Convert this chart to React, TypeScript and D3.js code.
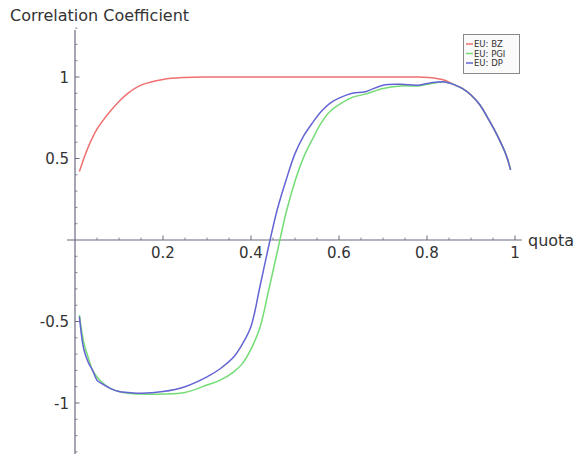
import React from "react";
import * as d3 from "d3";

// Quota grid shared by all three series
const quota = [
  0.01, 0.02, 0.03, 0.04, 0.05, 0.06, 0.08, 0.1, 0.12, 0.15, 0.2, 0.25, 0.3, 0.33, 0.36, 0.38, 0.4,
  0.42, 0.44, 0.46, 0.48, 0.5, 0.52, 0.54, 0.56, 0.58, 0.6, 0.63, 0.66, 0.7, 0.74, 0.78, 0.81, 0.84,
  0.86, 0.88, 0.9, 0.92, 0.94, 0.96, 0.98, 0.99,
];

const bz = [
  0.42, 0.5, 0.57, 0.63, 0.68, 0.72, 0.79, 0.85, 0.9, 0.95, 0.985, 0.997, 1.0, 1.0, 1.0, 1.0, 1.0,
  1.0, 1.0, 1.0, 1.0, 1.0, 1.0, 1.0, 1.0, 1.0, 1.0, 1.0, 1.0, 1.0, 1.0, 1.0, 0.995, 0.98,
  0.955, 0.93, 0.89, 0.83, 0.74, 0.64, 0.52, 0.43,
];

const pgi = [
  -0.46, -0.63, -0.72, -0.8, -0.84, -0.87, -0.91, -0.93, -0.94, -0.945, -0.945, -0.935, -0.89, -0.86,
  -0.81, -0.76, -0.67, -0.54, -0.31, -0.07, 0.17, 0.36, 0.51, 0.62, 0.72, 0.79, 0.83, 0.875, 0.895,
  0.93, 0.945, 0.945, 0.96, 0.97, 0.955, 0.93, 0.89, 0.83, 0.74, 0.64, 0.52, 0.43,
];

const dp = [
  -0.47, -0.67, -0.75, -0.8, -0.86, -0.88, -0.91, -0.93, -0.935, -0.94, -0.93, -0.9, -0.84, -0.79,
  -0.72, -0.64, -0.53, -0.29, -0.04, 0.19, 0.37, 0.53, 0.64, 0.72, 0.79, 0.84, 0.87, 0.9, 0.91, 0.95,
  0.955, 0.95, 0.965, 0.97, 0.955, 0.93, 0.89, 0.83, 0.74, 0.64, 0.52, 0.43,
];

const seriesNames = ["EU: BZ", "EU: PGI", "EU: DP"];
const seriesColors = ["#f07070", "#74dc74", "#6464d4"];
const seriesValues = [bz, pgi, dp];

const xTicks = [0.2, 0.4, 0.6, 0.8, 1];
const yTicks = [-1, -0.5, 0.5, 1];
const yTickLabels = ["-1", "-0.5", "0.5", "1"];

const W = 582;
const H = 454;

export default function App() {
  const x = d3.scaleLinear().domain([0, 1]).range([75, 515]);
  const y = d3.scaleLinear().domain([-1, 1]).range([403, 77]);

  const line = d3
    .line<[number, number]>()
    .x((d) => x(d[0]))
    .y((d) => y(d[1]))
    .curve(d3.curveCatmullRom.alpha(0.5));

  const x0 = x(0);
  const y0 = y(0);
  const axisColor = "#6a6a80";
  const font = "DejaVu Sans, sans-serif";

  const xMinor = d3.range(1, 21).map((i) => i * 0.05).filter((v) => Math.abs(v / 0.2 - Math.round(v / 0.2)) > 1e-6);
  const yMinor = d3
    .range(-13, 14)
    .map((i) => i / 10)
    .filter((v) => v !== 0 && Math.abs(v * 2 - Math.round(v * 2)) > 1e-6);

  return (
    <svg
      width={W}
      height={H}
      style={{ position: "absolute", left: 0, top: 0, background: "#fff" }}
      fontFamily={font}
    >
      <rect width={W} height={H} fill="#fff" />
      <text x={10} y={21} fontSize={16} fill="#333">
        Correlation Coefficient
      </text>

      {/* axes through the origin */}
      <line x1={67} x2={522} y1={y0} y2={y0} stroke={axisColor} strokeWidth={1.2} />
      <line x1={x0} x2={x0} y1={30} y2={454} stroke={axisColor} strokeWidth={1.2} />

      {xMinor.map((v, i) => (
        <line key={"xm" + i} x1={x(v)} x2={x(v)} y1={y0 - 2.5} y2={y0} stroke={axisColor} strokeWidth={0.8} />
      ))}
      {xTicks.map((v) => (
        <g key={"xt" + v}>
          <line x1={x(v)} x2={x(v)} y1={y0 - 4.5} y2={y0} stroke={axisColor} strokeWidth={1} />
          <text x={x(v)} y={y0 + 18} fontSize={15} textAnchor="middle" fill="#333">
            {v}
          </text>
        </g>
      ))}
      <text x={528} y={y0 + 6} fontSize={16} fill="#333">
        quota
      </text>

      {yMinor.map((v, i) => (
        <line key={"ym" + i} x1={x0} x2={x0 + 2.5} y1={y(v)} y2={y(v)} stroke={axisColor} strokeWidth={0.8} />
      ))}
      {yTicks.map((v, i) => (
        <g key={"yt" + v}>
          <line x1={x0} x2={x0 + 4.5} y1={y(v)} y2={y(v)} stroke={axisColor} strokeWidth={1} />
          <text x={x0 - 6} y={y(v) + 5.5} fontSize={15} textAnchor="end" fill="#333">
            {yTickLabels[i]}
          </text>
        </g>
      ))}

      {seriesValues.map((vals, si) => (
        <path
          key={seriesNames[si]}
          d={line(quota.map((q, i) => [q, vals[i]] as [number, number])) || ""}
          fill="none"
          stroke={seriesColors[si]}
          strokeWidth={1.5}
        />
      ))}

      {/* legend */}
      <g>
        <rect x={463.5} y={34.5} width={56} height={39} fill="#fafafa" stroke="#888" strokeWidth={1} />
        {seriesNames.map((n, i) => (
          <g key={"lg" + n}>
            <line x1={466} x2={473} y1={44 + i * 9.5} y2={44 + i * 9.5} stroke={seriesColors[i]} strokeWidth={1.5} />
            <text x={474} y={47 + i * 9.5} fontSize={8.5} fill="#333">
              {n}
            </text>
          </g>
        ))}
      </g>
    </svg>
  );
}
